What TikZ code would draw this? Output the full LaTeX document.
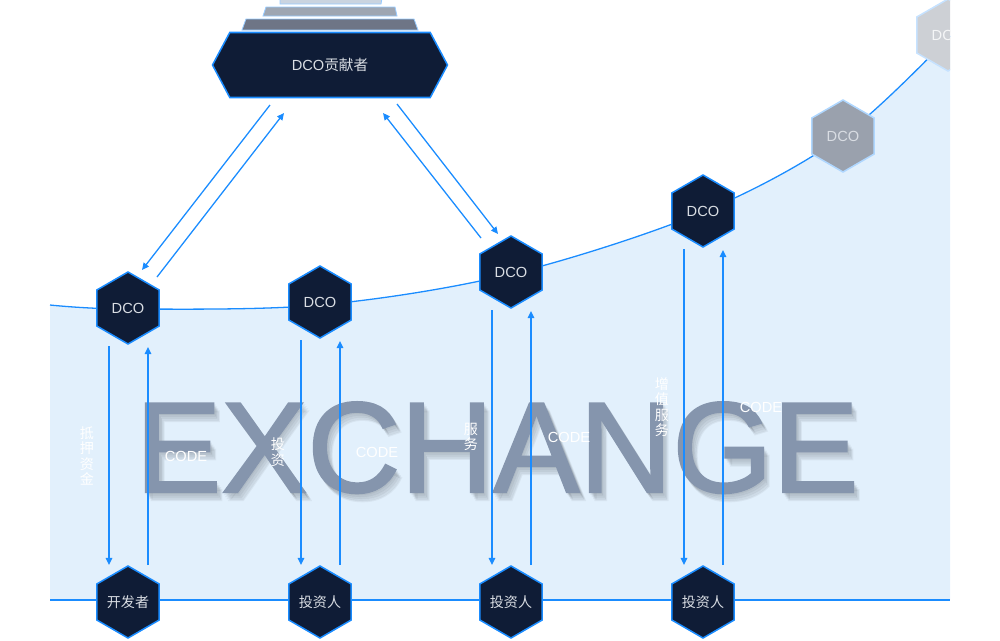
\documentclass[tikz,border=0pt]{standalone}
\usepackage{fontspec}
\setmainfont{Liberation Sans}
\newfontfamily\cjk{Noto Sans CJK SC}
\newfontfamily\heavy[FakeBold=1.6]{Liberation Sans}
\usetikzlibrary{shapes.geometric,shapes.symbols,arrows.meta}
\definecolor{navy}{HTML}{0F1C36}
\definecolor{edge}{HTML}{1A8CFF}
\definecolor{sea}{HTML}{E2F0FC}
\definecolor{ink}{HTML}{D9DDE3}
\definecolor{slate}{HTML}{8595AD}
\definecolor{barA}{HTML}{6E7586}
\definecolor{barB}{HTML}{9EA6B2}
\definecolor{barC}{HTML}{CAD4E0}
\definecolor{fadeA}{HTML}{9AA1AD}
\definecolor{fadeB}{HTML}{CDD0D5}

\begin{document}
\begin{tikzpicture}[
  x=0.3mm, y=-0.3mm,
  hexa/.style={regular polygon, regular polygon sides=6, shape border rotate=30,
    minimum size=2.16cm, inner sep=0pt, fill=navy, draw=edge, line width=1.3pt,
    text=ink, font=\fontsize{12.5}{14}\selectfont},
  crewbox/.style={signal, signal to=west and east, signal pointer angle=124,
    minimum width=7.05cm, minimum height=1.95cm, inner sep=0pt, fill=navy,
    draw=edge, line width=1.3pt, text=ink, font=\fontsize{12.5}{14}\selectfont},
  bar/.style={draw=edge!45, line width=0.7pt},
  arr/.style={edge, line width=1.1pt, -{Triangle[length=6pt,width=5.5pt]}},
  lbl/.style={text=white, font=\fontsize{12.5}{14}\selectfont},
  vlbl/.style={text=white, align=center, font=\cjk\fontsize{12}{13.2}\selectfont},
  big/.style={anchor=base, font=\heavy\fontsize{110}{110}\selectfont}
]
\useasboundingbox (0,0) rectangle (1000,640);

\begin{scope}
\clip (0,0) rectangle (950,640);
\fill [sea] (50,600) -- plot [smooth, tension=0.55] coordinates
  {(50,305) (128,309) (320,305) (511,274) (703,212) (843,136) (950,36)}
  -- (950,600) -- cycle;
\draw [edge, line width=1.1pt] plot [smooth, tension=0.55] coordinates
  {(50,305) (128,309) (320,305) (511,274) (703,212) (843,136) (950,36)};
\node [hexa, fill=fadeA, draw=edge!35, text=ink] (d5) at (843,136) {DCO};
\node [hexa, fill=fadeB, draw=edge!25, text=white!80!fadeB] (d6) at (948,35) {DCO};
\end{scope}
\draw [edge, line width=1.1pt] (50,600) -- (950,600);

\foreach \s in {2,4,6,8}
  \node [big, text=black!70!slate, opacity=0.06] at ({497+0.7*\s},{492+\s}) {EXCHANGE};
\node [big, text=slate] (xchg) at (497,492) {EXCHANGE};

\path [bar, fill=barC] (280,-2) -- (382,-2) -- (381,4) -- (280,4) -- cycle;
\path [bar, fill=barB] (266,7) -- (395,7) -- (397,16) -- (263,16) -- cycle;
\path [bar, fill=barA] (246,19) -- (414,19) -- (418,30) -- (242,30) -- cycle;
\node [crewbox] (crew) at (330,65) {DCO{\cjk 贡献者}};

\node [hexa] (d1) at (128,308) {DCO};
\node [hexa] (d2) at (320,302) {DCO};
\node [hexa] (d3) at (511,272) {DCO};
\node [hexa] (d4) at (703,211) {DCO};

\node [hexa, font=\cjk\fontsize{12}{14}\selectfont] (dev) at (128,602) {开发者};
\node [hexa, font=\cjk\fontsize{12}{14}\selectfont] (inv1) at (320,602) {投资人};
\node [hexa, font=\cjk\fontsize{12}{14}\selectfont] (inv2) at (511,602) {投资人};
\node [hexa, font=\cjk\fontsize{12}{14}\selectfont] (inv3) at (703,602) {投资人};

\draw [arr] ([shift={(-60,40)}]crew.center) -- ([shift={(14,-38)}]d1.center);
\draw [arr] ([shift={(29,-31)}]d1.center) -- ([shift={(-46,48)}]crew.center);
\draw [arr] ([shift={(67,39)}]crew.center) -- ([shift={(-13,-38)}]d3.center);
\draw [arr] ([shift={(-30,-34)}]d3.center) -- ([shift={(53,48)}]crew.center);

\foreach \a/\b in {d1/dev, d2/inv1, d3/inv2, d4/inv3} {
  \draw [arr] ([shift={(-19,38)}]\a.center) -- ([shift={(-19,-37)}]\b.center);
  \draw [arr] ([shift={(20,-37)}]\b.center) -- ([shift={(20,39)}]\a.center);
}

\node [vlbl] (pledge) at (87,456) {抵\\押\\资\\金};
\node [lbl] (code1) at (186,456) {CODE};
\node [vlbl] (fund) at (278,452) {投\\资};
\node [lbl] (code2) at (377,452) {CODE};
\node [vlbl] (serve) at (471,437) {服\\务};
\node [lbl] (code3) at (569,437) {CODE};
\node [vlbl] (extra) at (662,407) {增\\值\\服\\务};
\node [lbl] (code4) at (761,407) {CODE};
\end{tikzpicture}
\end{document}
